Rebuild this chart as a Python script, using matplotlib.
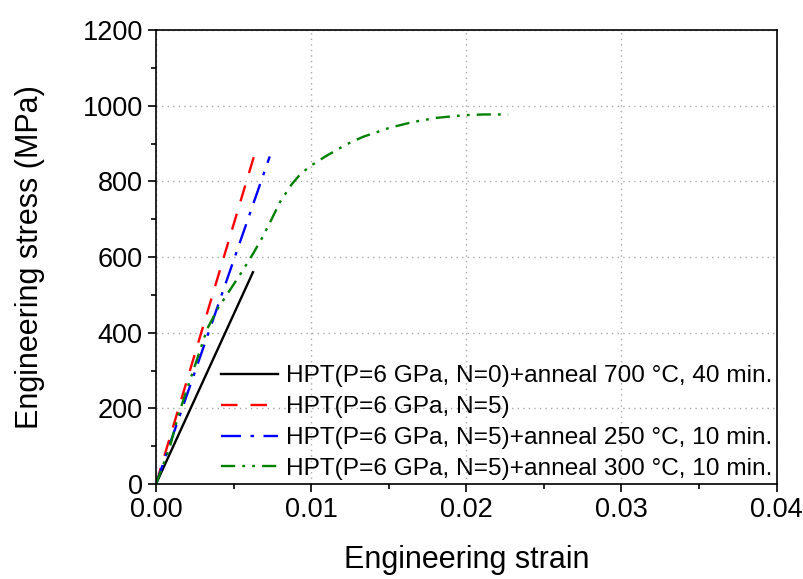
import matplotlib
matplotlib.use("Agg")
import matplotlib.pyplot as plt
import numpy as np

plt.rcParams['font.family'] = ['Liberation Sans', 'DejaVu Sans']

# HPT(P=6 GPa, N=0)+anneal 700 C, 40 min.
strain_n0 = [0.0, 0.00625]
stress_n0 = [0, 560]

# HPT(P=6 GPa, N=5)
strain_n5 = [0.0, 0.00640]
stress_n5 = [0, 878]

# HPT(P=6 GPa, N=5)+anneal 250 C
strain_250 = [0.0, 0.00733]
stress_250 = [0, 866]

# HPT(P=6 GPa, N=5)+anneal 300 C
strain_300 = [0.0, 0.0009, 0.00144, 0.00330, 0.00400, 0.00480, 0.00560, 0.00630,
              0.0069, 0.00745, 0.0080, 0.00874, 0.00928, 0.00992, 0.0110, 0.01228,
              0.01335, 0.01507, 0.01655, 0.01808, 0.0198, 0.0211, 0.0227]
stress_300 = [0, 99, 182, 410, 465, 515, 565, 612,
              655, 700, 746, 792, 818, 840, 868, 898,
              918, 942, 957, 968, 975, 977, 977]

labels = ["HPT(P=6 GPa, N=0)+anneal 700 °C, 40 min.",
          "HPT(P=6 GPa, N=5)",
          "HPT(P=6 GPa, N=5)+anneal 250 °C, 10 min.",
          "HPT(P=6 GPa, N=5)+anneal 300 °C, 10 min."]

fig = plt.figure(figsize=(8.04, 5.79), dpi=100)
ax = fig.add_axes([0.194, 0.164, 0.772, 0.784])

ax.plot(strain_n0, stress_n0, color="black", lw=1.7, label=labels[0])
ax.plot(strain_n5, stress_n5, color="red", lw=1.7, dashes=(7, 5.5), label=labels[1])
ax.plot(strain_250, stress_250, color="blue", lw=1.7, dashes=(8.5, 4, 1.5, 4), label=labels[2])
ax.plot(strain_300, stress_300, color="green", lw=1.7,
        dashes=(6, 3, 1.2, 3, 1.2, 3), label=labels[3])

ax.set_xlim(0, 0.04)
ax.set_ylim(0, 1200)
ax.set_xticks(np.arange(0, 0.041, 0.01))
ax.set_xticklabels(["0.00", "0.01", "0.02", "0.03", "0.04"])
ax.set_yticks(np.arange(0, 1201, 200))
ax.set_xticks(np.arange(0.005, 0.04, 0.01), minor=True)
ax.set_yticks(np.arange(100, 1200, 200), minor=True)
ax.tick_params(which="major", direction="out", length=6, width=1.2, labelsize=19.5)
ax.tick_params(which="minor", direction="out", length=3.5, width=1.2)
for s in ax.spines.values():
    s.set_linewidth(1.2)

ax.grid(True, which="major", linestyle=(0, (1, 3)), color="#aaaaaa", lw=1)

ax.set_xlabel("Engineering strain", fontsize=22, labelpad=16)
ax.set_ylabel("Engineering stress (MPa)", fontsize=22, labelpad=27)

ax.legend(loc="lower right", bbox_to_anchor=(1.013, -0.018), frameon=False,
          fontsize=17.6, handlelength=2.3, handletextpad=0.35, labelspacing=0.36,
          borderaxespad=0.1)

fig.savefig("out.png", dpi=100)
